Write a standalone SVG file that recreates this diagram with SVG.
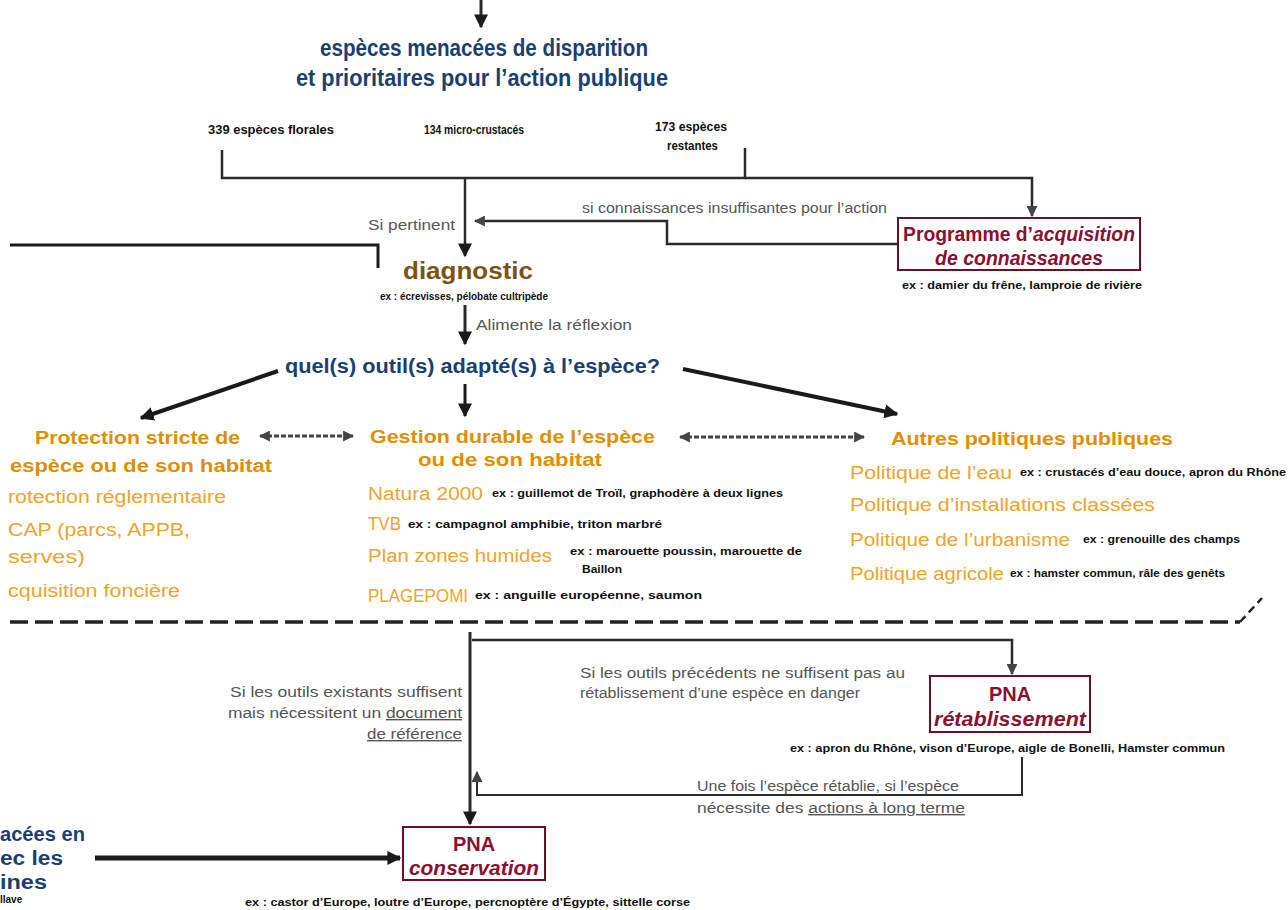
<svg xmlns="http://www.w3.org/2000/svg" width="1288" height="910" viewBox="0 0 1288 910">
<style>
.title{font-family:"Liberation Sans",Arial,sans-serif;font-weight:bold;fill:#1b3f73;font-size:23px}
.cnt{font-family:"Liberation Sans Narrow","Liberation Sans",sans-serif;font-weight:bold;fill:#111;font-size:12px}
.ex{font-family:"Liberation Sans Narrow","Liberation Sans",sans-serif;font-weight:bold;fill:#111;font-size:10px}
.lbl{font-family:"Liberation Sans",Arial,sans-serif;fill:#555;font-size:14px}
.head{font-family:"Liberation Sans",Arial,sans-serif;font-weight:bold;fill:#e08e00;font-size:18px}
.item{font-family:"Liberation Sans",Arial,sans-serif;fill:#eca42a;font-size:18px}
.diag{font-family:"Liberation Sans",Arial,sans-serif;font-weight:bold;fill:#7e5212;font-size:23px}
.quel{font-family:"Liberation Sans",Arial,sans-serif;font-weight:bold;fill:#1b3f73;font-size:20px}
.box{fill:#fff;stroke:#6b0f25;stroke-width:2}
.boxt{font-family:"Liberation Sans",Arial,sans-serif;font-weight:bold;fill:#8b0f2e;font-size:20px;text-anchor:middle}
.it{font-style:italic}
.ln{fill:none;stroke:#2a2a2a;stroke-width:2.5}
.thk{fill:none;stroke:#1a1a1a;stroke-width:4}
.dbl{fill:none;stroke:#444;stroke-width:3;stroke-dasharray:5 2}
.sep{fill:none;stroke:#222;stroke-width:3.5;stroke-dasharray:18 7}
.u{text-decoration:underline}
</style>
<defs>
<marker id="ah" viewBox="0 0 10 10" refX="9" refY="5" markerWidth="14" markerHeight="14" markerUnits="userSpaceOnUse" orient="auto-start-reverse">
<path d="M0,0 L10,5 L0,10 z" fill="#1a1a1a"/>
</marker>
<marker id="ahs" viewBox="0 0 10 10" refX="9" refY="5" markerWidth="11" markerHeight="11" markerUnits="userSpaceOnUse" orient="auto-start-reverse">
<path d="M0,0 L10,5 L0,10 z" fill="#444"/>
</marker>
</defs>
<rect width="1288" height="910" fill="#fff"/>

<g id="connectors">
<path class="ln" d="M481,0 V27" style="stroke-width:3" marker-end="url(#ah)"/>
<path class="ln" d="M222,150 V178 H745 V148"/>
<path class="ln" d="M745,178 H1032 V216" marker-end="url(#ahs)"/>
<path class="ln" d="M465,178 V256" marker-end="url(#ah)"/>
<path class="ln" d="M898,244 H667 V221 H475" marker-end="url(#ahs)"/>
<path class="thk" d="M10,245 H378 V268" style="stroke-width:3"/>
<path class="ln" d="M465,305 V344" style="stroke-width:3" marker-end="url(#ah)"/>
<path class="thk" d="M278,371 L141,418" marker-end="url(#ah)"/>
<path class="thk" d="M465,384 V416" style="stroke-width:3" marker-end="url(#ah)"/>
<path class="thk" d="M683,369 L897,414" marker-end="url(#ah)"/>
<path class="dbl" d="M260,436 H353" marker-start="url(#ahs)" marker-end="url(#ahs)"/>
<path class="dbl" d="M680,437 H864" marker-start="url(#ahs)" marker-end="url(#ahs)"/>
<path class="sep" d="M10,622 H1240"/>
<path class="sep" d="M1240,622 L1262,598" style="stroke-width:2.5;stroke-dasharray:8 5"/>
<path class="ln" d="M470,632 V824" style="stroke-width:3" marker-end="url(#ah)"/>
<path class="ln" d="M472,640 H1012 V674" marker-end="url(#ahs)"/>
<path class="ln" d="M1022,757 V795 H477 V772" style="stroke-width:2" marker-end="url(#ahs)"/>
<path class="thk" d="M95,858 H400" style="stroke-width:5" marker-end="url(#ah)"/>
</g>

<g id="title">
<text class="title" x="320" y="56" textLength="328" lengthAdjust="spacingAndGlyphs">espèces menacées de disparition</text>
<text class="title" x="296" y="86" textLength="372" lengthAdjust="spacingAndGlyphs">et prioritaires pour l’action publique</text>
</g>

<g id="counts">
<text class="cnt" x="208" y="134" textLength="126" lengthAdjust="spacingAndGlyphs">339 espèces florales</text>
<text class="cnt" x="424" y="134" textLength="100" lengthAdjust="spacingAndGlyphs">134 micro-crustacés</text>
<text class="cnt" x="655" y="131" textLength="72" lengthAdjust="spacingAndGlyphs">173 espèces</text>
<text class="cnt" x="667" y="150" textLength="51" lengthAdjust="spacingAndGlyphs">restantes</text>
</g>

<g id="labels">
<text class="lbl" x="368" y="230" textLength="87" lengthAdjust="spacingAndGlyphs">Si pertinent</text>
<text class="lbl" x="582" y="213" textLength="305" lengthAdjust="spacingAndGlyphs">si connaissances insuffisantes pour l’action</text>
<text class="lbl" x="476" y="330" textLength="156" lengthAdjust="spacingAndGlyphs">Alimente la réflexion</text>
</g>

<g id="programme">
<rect class="box" x="898" y="218" width="242" height="52"/>
<text class="boxt" x="1019" y="241" textLength="232" lengthAdjust="spacingAndGlyphs">Programme d’<tspan class="it">acquisition</tspan></text>
<text class="boxt it" x="1019" y="265" textLength="168" lengthAdjust="spacingAndGlyphs">de connaissances</text>
<text class="ex" x="902" y="289" textLength="240" lengthAdjust="spacingAndGlyphs">ex : damier du frêne, lamproie de rivière</text>
</g>

<g id="diagnostic">
<text class="diag" x="403" y="279" textLength="130" lengthAdjust="spacingAndGlyphs">diagnostic</text>
<text class="ex" x="380" y="300" textLength="168" lengthAdjust="spacingAndGlyphs">ex : écrevisses, pélobate cultripède</text>
</g>

<g id="outils">
<text class="quel" x="285" y="373" textLength="375" lengthAdjust="spacingAndGlyphs">quel(s) outil(s) adapté(s) à l’espèce?</text>
</g>

<g id="protection">
<text class="head" x="35" y="444" textLength="205" lengthAdjust="spacingAndGlyphs">Protection stricte de</text>
<text class="head" x="10" y="472" textLength="262" lengthAdjust="spacingAndGlyphs">espèce ou de son habitat</text>
<text class="item" x="8" y="503" textLength="218" lengthAdjust="spacingAndGlyphs">rotection réglementaire</text>
<text class="item" x="8" y="536" textLength="182" lengthAdjust="spacingAndGlyphs">CAP (parcs, APPB,</text>
<text class="item" x="8" y="563" textLength="77" lengthAdjust="spacingAndGlyphs">serves)</text>
<text class="item" x="8" y="597" textLength="172" lengthAdjust="spacingAndGlyphs">cquisition foncière</text>
</g>

<g id="gestion">
<text class="head" x="370" y="443" textLength="285" lengthAdjust="spacingAndGlyphs">Gestion durable de l’espèce</text>
<text class="head" x="418" y="466" textLength="184" lengthAdjust="spacingAndGlyphs">ou de son habitat</text>
<text class="item" x="368" y="500" textLength="115" lengthAdjust="spacingAndGlyphs">Natura 2000</text>
<text class="ex" x="492" y="497" textLength="291" lengthAdjust="spacingAndGlyphs">ex : guillemot de Troïl, graphodère à deux lignes</text>
<text class="item" x="368" y="530" textLength="33" lengthAdjust="spacingAndGlyphs">TVB</text>
<text class="ex" x="408" y="528" textLength="254" lengthAdjust="spacingAndGlyphs">ex : campagnol amphibie, triton marbré</text>
<text class="item" x="368" y="562" textLength="184" lengthAdjust="spacingAndGlyphs">Plan zones humides</text>
<text class="ex" x="570" y="555" textLength="232" lengthAdjust="spacingAndGlyphs">ex : marouette poussin, marouette de</text>
<text class="ex" x="582" y="573" textLength="40" lengthAdjust="spacingAndGlyphs">Baillon</text>
<text class="item" x="368" y="602" textLength="100" lengthAdjust="spacingAndGlyphs">PLAGEPOMI</text>
<text class="ex" x="475" y="599" textLength="227" lengthAdjust="spacingAndGlyphs">ex : anguille européenne, saumon</text>
</g>

<g id="autres">
<text class="head" x="891" y="445" textLength="282" lengthAdjust="spacingAndGlyphs">Autres politiques publiques</text>
<text class="item" x="850" y="479" textLength="162" lengthAdjust="spacingAndGlyphs">Politique de l’eau</text>
<text class="ex" x="1020" y="476" textLength="266" lengthAdjust="spacingAndGlyphs">ex : crustacés d’eau douce, apron du Rhône</text>
<text class="item" x="850" y="511" textLength="305" lengthAdjust="spacingAndGlyphs">Politique d’installations classées</text>
<text class="item" x="850" y="546" textLength="220" lengthAdjust="spacingAndGlyphs">Politique de l’urbanisme</text>
<text class="ex" x="1083" y="543" textLength="157" lengthAdjust="spacingAndGlyphs">ex : grenouille des champs</text>
<text class="item" x="850" y="580" textLength="154" lengthAdjust="spacingAndGlyphs">Politique agricole</text>
<text class="ex" x="1010" y="577" textLength="215" lengthAdjust="spacingAndGlyphs">ex : hamster commun, râle des genêts</text>
</g>

<g id="lower-labels">
<text class="lbl" x="580" y="678" textLength="325" lengthAdjust="spacingAndGlyphs">Si les outils précédents ne suffisent pas au</text>
<text class="lbl" x="580" y="698" textLength="280" lengthAdjust="spacingAndGlyphs">rétablissement d’une espèce en danger</text>
<text class="lbl" x="230" y="697" textLength="232" lengthAdjust="spacingAndGlyphs">Si les outils existants suffisent</text>
<text class="lbl" x="228" y="718" textLength="234" lengthAdjust="spacingAndGlyphs">mais nécessitent un <tspan class="u">document</tspan></text>
<text class="lbl u" x="367" y="739" textLength="95" lengthAdjust="spacingAndGlyphs">de référence</text>
<text class="lbl" x="697" y="791" textLength="262" lengthAdjust="spacingAndGlyphs">Une fois l’espèce rétablie, si l’espèce</text>
<text class="lbl" x="697" y="813" textLength="268" lengthAdjust="spacingAndGlyphs">nécessite des <tspan class="u">actions à long terme</tspan></text>
</g>

<g id="pna-retablissement">
<rect class="box" x="930" y="676" width="160" height="56"/>
<text class="boxt" x="1010" y="701">PNA</text>
<text class="boxt it" x="1010" y="726" textLength="152" lengthAdjust="spacingAndGlyphs">rétablissement</text>
<text class="ex" x="790" y="752" textLength="435" lengthAdjust="spacingAndGlyphs">ex : apron du Rhône, vison d’Europe, aigle de Bonelli, Hamster commun</text>
</g>

<g id="pna-conservation">
<rect class="box" x="403" y="827" width="142" height="53"/>
<text class="boxt" x="474" y="851">PNA</text>
<text class="boxt it" x="474" y="875" textLength="130" lengthAdjust="spacingAndGlyphs">conservation</text>
<text class="ex" x="245" y="906" textLength="445" lengthAdjust="spacingAndGlyphs">ex : castor d’Europe, loutre d’Europe, percnoptère d’Égypte, sittelle corse</text>
</g>

<g id="left-source">
<text class="quel" x="0" y="841" textLength="85" lengthAdjust="spacingAndGlyphs">acées en</text>
<text class="quel" x="0" y="865" textLength="63" lengthAdjust="spacingAndGlyphs">ec les</text>
<text class="quel" x="0" y="889" textLength="47" lengthAdjust="spacingAndGlyphs">ines</text>
<text class="ex" x="0" y="903">llave</text>
</g>
</svg>
